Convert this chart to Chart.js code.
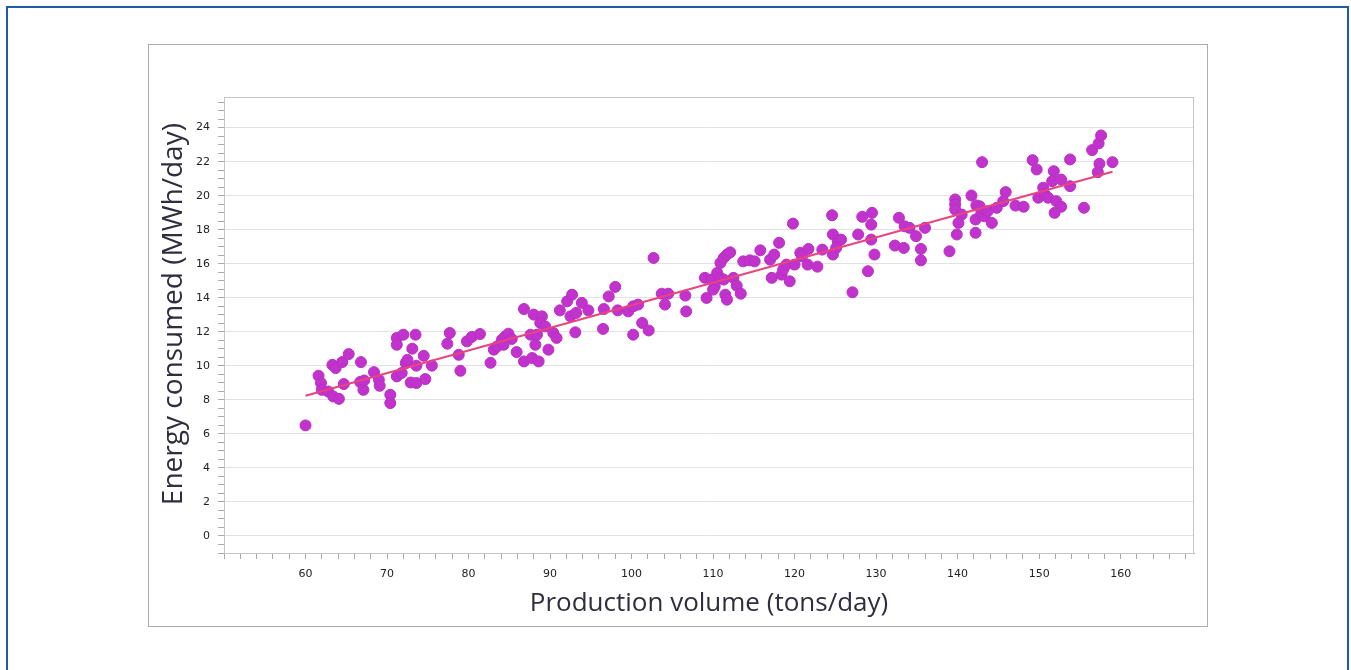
<!DOCTYPE html>
<html>
<head>
<meta charset="utf-8">
<title>Energy vs production</title>
<script src="https://cdn.jsdelivr.net/npm/chart.js@4.4.1/dist/chart.umd.min.js"></script>
<style>
  body { margin: 0; background: #fff; }
  .frame { position: absolute; left: 6px; top: 6px; width: 1343px; height: 720px; box-sizing: border-box; border: 2px solid #1f5ca6; }
  .box { position: absolute; left: 148px; top: 44px; width: 1060px; height: 583px; box-sizing: border-box; border: 1px solid #a9a9b9; }
  .wrap { position: absolute; left: 149px; top: 45px; }
</style>
</head>
<body>
<div class="frame"></div>
<div class="box"></div>
<div class="wrap"><canvas id="chart" width="1058" height="581"></canvas></div>
<script>
// значения
const prodVolume = [
  60.0, 61.6, 61.9, 62.0, 62.8, 63.4, 64.1, 64.7, 63.3, 63.7, 64.5, 65.3, 66.8, 66.7, 67.1, 67.2, 68.4, 69.0, 69.1, 70.4,
  70.4, 71.2, 71.2, 72.0, 73.5, 73.1, 71.2, 71.8, 72.3, 72.5, 73.6, 72.9, 73.6, 74.7, 74.5, 75.5, 77.4, 77.7, 79.0, 78.8,
  79.8, 80.4, 81.4,
  82.7, 83.1, 83.5, 84.1, 84.5, 84.9, 85.3, 84.3, 85.9, 86.8, 86.8, 87.8, 88.6, 87.6, 88.4, 88.2, 88.0, 89.0, 88.8, 89.4,
  89.8, 90.4, 90.8, 91.2, 92.1, 92.7, 92.5, 93.2, 93.1, 93.9, 94.7, 96.6, 96.5, 97.2, 98.0, 98.3, 99.6, 100.2, 100.8, 100.2,
  101.3, 102.1, 102.7, 103.7, 104.5, 104.1, 106.6, 106.7,
  109.0, 109.2, 109.8, 110.2, 110.0, 110.5, 110.9, 111.3, 111.7, 112.1, 110.9, 111.3, 111.5, 111.7, 112.5, 112.9, 113.4, 113.7, 114.5, 115.1,
  115.8, 117.0, 117.5, 118.1, 117.2, 118.4, 118.6, 119.0, 119.4, 119.8, 120.0, 120.7, 121.7, 121.6, 120.9, 122.8, 123.4, 124.6, 124.7, 125.3,
  125.7, 125.1, 124.7, 127.1, 127.8, 128.3, 129.5, 129.4, 129.0, 129.4, 129.8, 132.3, 133.4, 132.8, 133.5, 134.1, 134.9, 136.0, 135.5, 135.5,
  139.0, 139.7, 139.7, 139.7, 140.5, 140.1, 139.9, 141.7, 142.3, 142.2, 142.2, 142.7, 142.9, 143.3, 143.7, 144.2, 143.0, 144.8, 145.9, 145.6,
  147.1, 148.1, 149.2, 149.7, 149.9, 150.5, 150.7, 151.1, 151.8, 151.6, 152.7, 152.1, 152.7, 151.9, 153.8, 153.8, 155.5, 156.5, 157.3, 157.6,
  157.4, 157.2, 159.0
];
const energyUsed = [
  6.50, 9.42, 8.99, 8.59, 8.49, 8.20, 8.06, 8.93, 10.06, 9.87, 10.22, 10.69, 10.22, 9.05, 8.59, 9.14, 9.63, 9.18, 8.83, 8.30,
  7.81, 11.64, 11.24, 11.83, 11.83, 11.01, 9.38, 9.58, 10.16, 10.35, 10.01, 9.02, 8.99, 9.22, 10.59, 10.01, 11.30, 11.93, 9.71, 10.65,
  11.44, 11.70, 11.87,
  10.18, 10.95, 11.14, 11.54, 11.73, 11.89, 11.58, 11.24, 10.81, 13.34, 10.26, 10.46, 10.26, 11.83, 11.83, 11.24, 13.01, 12.91, 12.52, 12.32,
  10.95, 11.93, 11.64, 13.26, 13.79, 14.18, 12.91, 13.11, 11.97, 13.70, 13.26, 13.34, 12.17, 14.08, 14.64, 13.26, 13.20, 13.50, 13.60, 11.83,
  12.52, 12.08, 16.34, 14.24, 14.24, 13.60, 14.13, 13.20,
  15.17, 13.99, 15.07, 14.67, 14.48, 15.46, 16.05, 16.34, 16.54, 16.67, 15.17, 15.07, 14.18, 13.89, 15.17, 14.71, 14.24, 16.14, 16.20, 16.14,
  16.79, 16.24, 16.54, 17.23, 15.17, 15.36, 15.66, 15.95, 14.97, 18.36, 15.95, 16.64, 16.87, 15.95, 16.44, 15.83, 16.83, 18.85, 17.72, 17.32,
  17.42, 16.93, 16.54, 14.32, 17.72, 18.76, 18.99, 18.30, 15.56, 17.42, 16.54, 17.07, 16.93, 18.70, 18.20, 18.11, 17.62, 18.11, 16.87, 16.20,
  16.73, 19.78, 19.49, 19.19, 18.89, 18.40, 17.72, 20.01, 19.43, 18.60, 17.82, 19.38, 18.95, 18.79, 19.09, 18.40, 21.97, 19.29, 20.21, 19.68,
  19.42, 19.35, 22.09, 21.54, 19.88, 20.47, 20.07, 19.88, 21.44, 20.85, 20.95, 19.68, 19.35, 18.99, 22.13, 20.56, 19.29, 22.68, 23.07, 23.54,
  21.88, 21.38, 21.97
];
// линия тренда
const trendVolume = [60, 159];
const trendEnergy = [8.24, 21.41];
// подписи осей
const xTickLabels = [60, 70, 80, 90, 100, 110, 120, 130, 140, 150, 160];
const yTickLabels = [0, 2, 4, 6, 8, 10, 12, 14, 16, 18, 20, 22, 24];

const points = prodVolume.map((x, i) => ({ x: x, y: energyUsed[i] }));
const trend = trendVolume.map((x, i) => ({ x: x, y: trendEnergy[i] }));

// рамка вокруг области графика
const plotBorder = {
  id: 'plotBorder',
  afterDraw(chart) {
    const a = chart.chartArea;
    const ctx = chart.ctx;
    ctx.save();
    ctx.strokeStyle = '#c4c4c4';
    ctx.lineWidth = 1;
    ctx.strokeRect(a.left + 0.5, a.top + 0.5, a.right - a.left - 1, a.bottom - a.top);
    ctx.restore();
  }
};

function stepTicks(min, max, step) {
  const t = [];
  for (let v = min; v <= max + 1e-9; v += step) t.push({ value: Math.round(v * 100) / 100 });
  return t;
}

new Chart(document.getElementById('chart'), {
  type: 'scatter',
  data: {
    datasets: [
      {
        type: 'line',
        data: trend,
        borderColor: '#e8457f',
        borderWidth: 2,
        pointRadius: 0,
        fill: false,
        order: 0
      },
      {
        data: points,
        backgroundColor: '#c133cc',
        borderColor: '#b82fc2',
        borderWidth: 1,
        pointRadius: 5.5,
        pointHoverRadius: 5.5,
        order: 1
      }
    ]
  },
  plugins: [plotBorder],
  options: {
    responsive: false,
    animation: false,
    devicePixelRatio: 1,
    layout: { padding: { top: 52, right: 13, left: 0, bottom: 0 } },
    plugins: {
      legend: { display: false },
      tooltip: { enabled: false }
    },
    scales: {
      x: {
        type: 'linear',
        min: 50,
        max: 169,
        afterBuildTicks: s => { s.ticks = stepTicks(50, 168, 2); },
        afterFit: s => { s.height = 73; },
        grid: { drawOnChartArea: false, tickLength: 6, tickColor: '#a8a8a8' },
        border: { color: '#c4c4c4' },
        ticks: {
          autoSkip: false,
          maxRotation: 0,
          padding: 9,
          color: '#222',
          font: { family: 'DejaVu Sans', size: 11 },
          callback: v => xTickLabels.includes(v) ? String(v) : ''
        },
        title: {
          display: true,
          text: 'Production volume (tons/day)',
          color: '#2e2e3e',
          font: { family: 'Open Sans', size: 26 },
          padding: { top: 0, bottom: 7 }
        }
      },
      y: {
        type: 'linear',
        min: -1,
        max: 25.8,
        afterBuildTicks: s => { s.ticks = stepTicks(-1, 25.5, 0.5); },
        afterFit: s => { s.width = 75; },
        grid: {
          color: c => (c.tick && yTickLabels.includes(c.tick.value)) ? '#e2e2e2' : 'rgba(0,0,0,0)',
          tickColor: '#a8a8a8',
          tickLength: 6
        },
        border: { color: '#c4c4c4' },
        ticks: {
          autoSkip: false,
          padding: 8,
          color: '#222',
          font: { family: 'DejaVu Sans', size: 11 },
          callback: v => yTickLabels.includes(v) ? String(v) : ''
        },
        title: {
          display: true,
          // пробелы в начале сдвигают подпись вверх, как на исходнике
          text: '   Energy consumed (MWh/day)',
          color: '#2e2e3e',
          font: { family: 'Open Sans', size: 28 },
          padding: { top: 8, bottom: 0 }
        }
      }
    }
  }
});
</script>
</body>
</html>
